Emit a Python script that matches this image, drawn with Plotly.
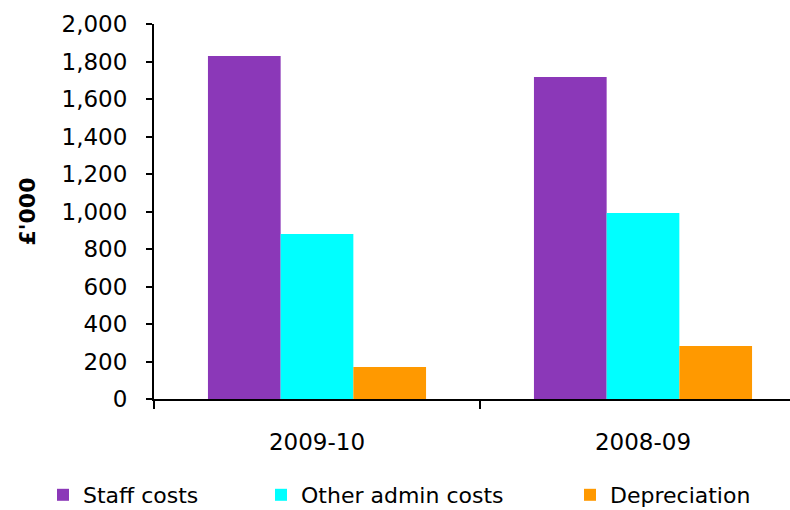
import plotly.graph_objects as go

categories = ["2009-10", "2008-09"]
staff_costs = [1829, 1717]
other_admin_costs = [880, 992]
depreciation = [171, 283]
y_ticks = [0, 200, 400, 600, 800, 1000, 1200, 1400, 1600, 1800, 2000]
y_tick_labels = ["0", "200", "400", "600", "800", "1,000", "1,200", "1,400", "1,600", "1,800", "2,000"]

FONT = "DejaVu Sans"
W, H = 790, 510

fig = go.Figure()
series = [
    ("Staff costs", staff_costs, "#8B38B8", "legend"),
    ("Other admin costs", other_admin_costs, "#00FFFF", "legend2"),
    ("Depreciation", depreciation, "#FF9900", "legend3"),
]
for name, vals, col, lg in series:
    fig.add_trace(go.Bar(x=categories, y=vals, name=name, legend=lg, showlegend=True,
                         marker=dict(color=col, line=dict(width=0))))

legend_common = dict(orientation="h", xref="container", yref="container",
                     yanchor="middle", xanchor="left", y=(H - 495) / H,
                     font=dict(family=FONT, size=22, color="black"),
                     bgcolor="rgba(0,0,0,0)", borderwidth=0)

fig.update_layout(
    width=W, height=H,
    showlegend=True,
    margin=dict(l=154, r=0, t=24, b=111),
    paper_bgcolor="white", plot_bgcolor="white",
    barmode="group", bargap=0.331, bargroupgap=0,
    font=dict(family=FONT, size=22, color="black"),
    legend=dict(legend_common, x=43 / W),
    legend2=dict(legend_common, x=261 / W),
    legend3=dict(legend_common, x=570 / W),
    xaxis=dict(
        type="category", range=[-0.5, -0.5 + 636 / 326],
        tickson="boundaries", ticks="outside", ticklen=8, tickwidth=2, tickcolor="black",
        showline=True, linecolor="black", linewidth=2,
        showgrid=False, tickfont=dict(family=FONT, size=23, color="black"),
        ticklabelstandoff=21,
    ),
    yaxis=dict(
        range=[0, 2000], tickvals=y_ticks, ticktext=y_tick_labels,
        ticks="outside", ticklen=6, tickwidth=2, tickcolor="black",
        showline=True, linecolor="black", linewidth=2,
        showgrid=False, zeroline=False,
        tickfont=dict(family=FONT, size=23, color="black"),
        ticklabelstandoff=14,
        title=dict(text="<b>£'000</b>", font=dict(family=FONT, size=22, color="black"), standoff=20),
    ),
)

fig.write_html("out.html")
